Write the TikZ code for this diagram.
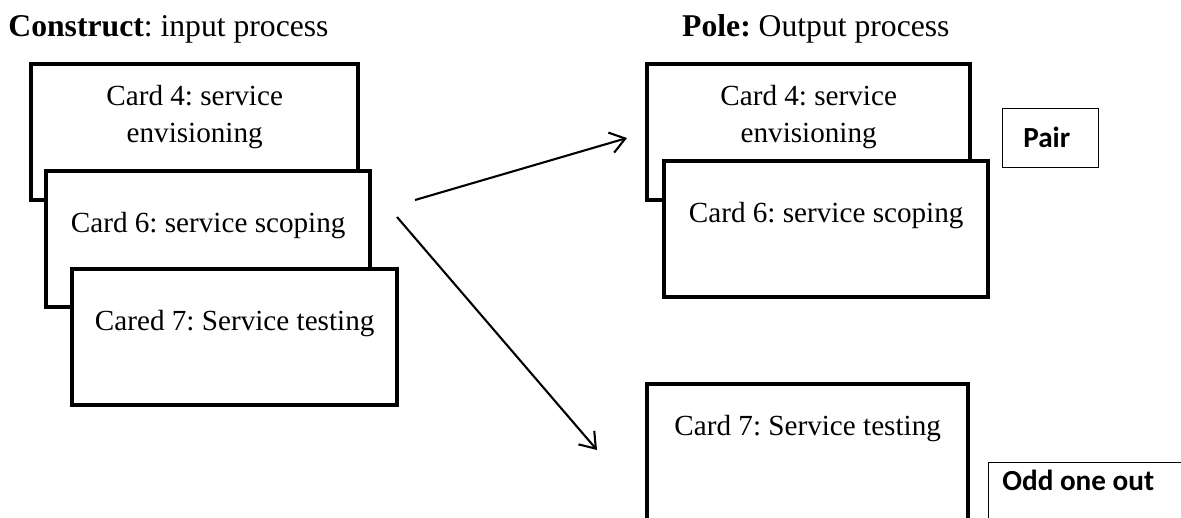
\documentclass[tikz,border=0pt]{standalone}
\usepackage{fontspec}
\setmainfont{Liberation Serif}
\newfontfamily\calib{Carlito}
\usetikzlibrary{arrows.meta,calc}
\frenchspacing
\tikzset{
  card/.style={draw=black, fill=white, line width=2.1pt, rectangle, inner sep=0pt, anchor=north west},
  cardtext/.style={align=center, font=\fontsize{14}{17.8}\selectfont, inner sep=0pt},
  tag/.style={draw=black, fill=white, line width=0.7pt, rectangle, inner sep=0pt, anchor=north west},
  tagtext/.style={font=\calib\bfseries\fontsize{14}{16}\selectfont, inner sep=0pt},
  head/.style={font=\fontsize{15.2}{17}\selectfont, inner sep=0pt, anchor=base west},
  conn/.style={line width=1pt, -{Straight Barb[length=7pt,width=10pt,line width=1pt]}}
}
\begin{document}
\begin{tikzpicture}[x=0.48pt,y=-0.48pt]
\useasboundingbox (0,0) rectangle (1181,518);
% headers
\node[head] (h1) at (8,36) {\textbf{Construct}: input process};
\node[head,anchor=base east] (h2) at (950,36) {\textbf{Pole:} Output process};
% left stack
\node[card, minimum width=327*0.48pt, minimum height=136*0.48pt] (L4) at (29,62) {};
\node[cardtext] (L4t) at ($(L4.north)+(0,55)$) {Card 4: service\\envisioning};
\node[card, minimum width=324*0.48pt, minimum height=136*0.48pt] (L6) at (44,169) {};
\node[cardtext,anchor=base] (L6t) at ($(L6.north)+(0,63)$) {Card 6: service scoping};
\node[card, minimum width=325*0.48pt, minimum height=136*0.48pt] (L7) at (70,267) {};
\node[cardtext,anchor=base] (L7t) at ($(L7.north)+(0,63)$) {Cared 7: Service testing};
% right stack
\node[card, minimum width=323*0.48pt, minimum height=136*0.48pt] (R4) at (645,62) {};
\node[cardtext] (R4t) at ($(R4.north)+(0,55)$) {Card 4: service\\envisioning};
\node[card, minimum width=324*0.48pt, minimum height=136*0.48pt] (R6) at (662,159) {};
\node[cardtext,anchor=base] (R6t) at ($(R6.north)+(0,63)$) {Card 6: service scoping};
\node[card, minimum width=321*0.48pt, minimum height=150*0.48pt] (R7) at (645,382) {};
\node[cardtext,anchor=base] (R7t) at ($(R7.north)+(0,53)$) {Card 7: Service testing};
% tags
\node[tag, minimum width=96*0.48pt, minimum height=59*0.48pt] (pair) at (1002,108) {};
\node[tagtext,anchor=base] (pairt) at ($(pair.north)+(-4,39)$) {Pair};
\node[tag, minimum width=200*0.48pt, minimum height=70*0.48pt] (odd) at (988,462) {};
\node[tagtext,anchor=base west] (oddt) at (1002,490) {Odd one out};
% arrows
\coordinate (a1s) at (415,200);
\coordinate (a1e) at (627,138);
\coordinate (a2s) at (397,217);
\coordinate (a2e) at (597,450);
\draw[conn] (a1s) -- (a1e);
\draw[conn] (a2s) -- (a2e);
\end{tikzpicture}
\end{document}
